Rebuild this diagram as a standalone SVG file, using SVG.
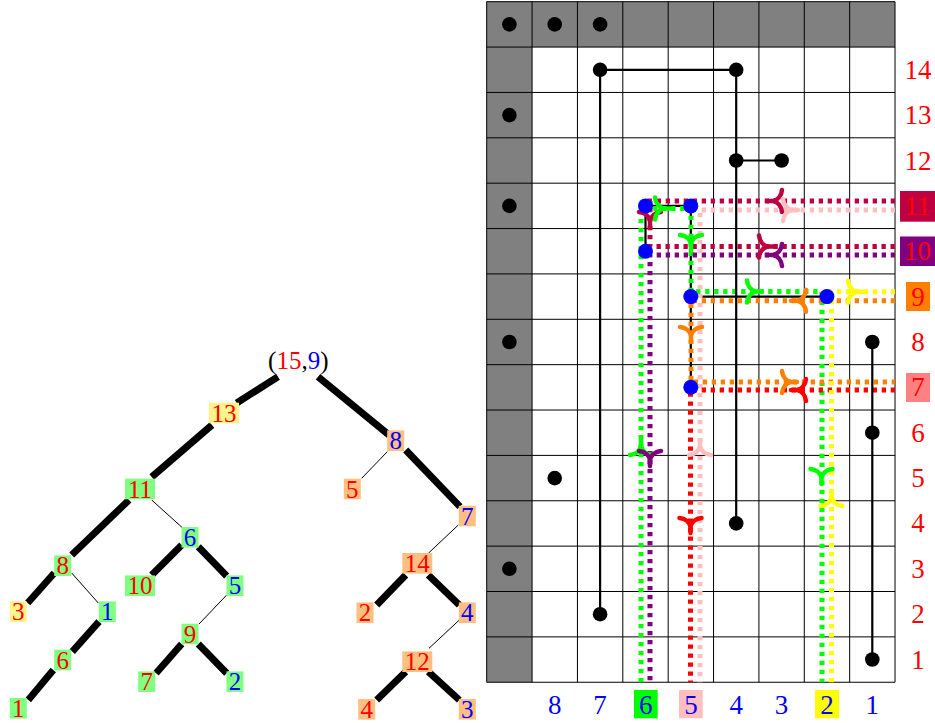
<svg xmlns="http://www.w3.org/2000/svg" xmlns:xlink="http://www.w3.org/1999/xlink" width="935" height="723" viewBox="0 0 935 723">
<style>
text{font-family:"Liberation Serif","Times New Roman",serif}
.tl{font-size:25px;text-anchor:middle}
.gl{font-size:27px;text-anchor:middle}
.r{fill:#ff0000}
.b{fill:#0000ff}
.k{fill:#000}
.thick{stroke:#000;stroke-width:7;fill:none}
.thin{stroke:#000;stroke-width:1;fill:none}
.dot{fill:none;stroke-width:5;stroke-dasharray:4.3 4.7}
.knot{stroke:#000;stroke-width:2.2;fill:none}
.gbg{fill:#80ff80}
.ybg{fill:#fff38a}
.obg{fill:#ffbf80}
</style>
<defs>
<path id="ah" d="M -9,-11 C -8.5,-5 -4.5,-1 0,0 C -4.5,1 -8.5,5 -9,11 M 0,0 H 6" fill="none" stroke-width="4.5" stroke-linecap="round" stroke-linejoin="round"/>
</defs>

<g id="tree-edges">
<path class="thick" d="M278,376.7 L236.7,403"/>
<path class="thick" d="M318,376.7 L389,435"/>
<path class="thick" d="M212,425 L151.7,477"/>
<path class="thick" d="M129,500 L71.7,555"/>
<path class="thin" d="M151.7,500 L182.7,528"/>
<path class="thick" d="M54.3,573 L27.7,603"/>
<path class="thin" d="M71.7,573 L98.3,603"/>
<path class="thick" d="M99,621.7 L72.3,651.7"/>
<path class="thick" d="M53.3,670 L28.3,700"/>
<path class="thick" d="M181.7,545 L151.7,575"/>
<path class="thick" d="M198.3,546.7 L226.7,576"/>
<path class="thin" d="M226.7,595 L199,624"/>
<path class="thick" d="M181.7,644 L156,673.3"/>
<path class="thick" d="M198.3,644 L226.7,673.3"/>
<path class="thin" d="M387.3,451.7 L361.7,478.3"/>
<path class="thick" d="M405.7,450 L460,506.7"/>
<path class="thin" d="M458.3,525 L428.3,553.3"/>
<path class="thick" d="M405.7,575 L376.7,605"/>
<path class="thick" d="M428.3,575 L459.3,605"/>
<path class="thin" d="M459.3,620 L429,648.3"/>
<path class="thick" d="M405.7,671.7 L376.7,700"/>
<path class="thick" d="M428.3,671.7 L459.3,700"/>
</g>

<g id="root"><text class="tl" x="298.3" y="368.7"><tspan class="k">(</tspan><tspan class="r">15</tspan><tspan class="k">,</tspan><tspan class="b">9</tspan><tspan class="k">)</tspan></text></g>
<g id="n13"><rect class="ybg" x="209" y="402.7" width="30" height="20.6"/><text class="tl r" x="224" y="421.7">13</text></g>
<g id="n11"><rect class="gbg" x="125" y="478.7" width="30" height="20.6"/><text class="tl r" x="140" y="497.7">11</text></g>
<g id="n8a"><rect class="gbg" x="54.2" y="555.4" width="17" height="20.6"/><text class="tl r" x="62.7" y="574.4">8</text></g>
<g id="n3a"><rect class="ybg" x="9.8" y="601.4" width="17" height="20.6"/><text class="tl r" x="18.3" y="620.4">3</text></g>
<g id="n1b"><rect class="gbg" x="98.8" y="601.4" width="17" height="20.6"/><text class="tl b" x="107.3" y="620.4">1</text></g>
<g id="n6a"><rect class="gbg" x="54.2" y="649.7" width="17" height="20.6"/><text class="tl r" x="62.7" y="668.7">6</text></g>
<g id="n1a"><rect class="gbg" x="9.8" y="698" width="17" height="20.6"/><text class="tl r" x="18.3" y="717">1</text></g>
<g id="n6b"><rect class="gbg" x="181.5" y="527" width="17" height="20.6"/><text class="tl b" x="190" y="546">6</text></g>
<g id="n10"><rect class="gbg" x="125" y="575.4" width="30" height="20.6"/><text class="tl r" x="140" y="594.4">10</text></g>
<g id="n5b"><rect class="gbg" x="226.5" y="575.4" width="17" height="20.6"/><text class="tl b" x="235" y="594.4">5</text></g>
<g id="n9"><rect class="gbg" x="181.5" y="623.7" width="17" height="20.6"/><text class="tl r" x="190" y="642.7">9</text></g>
<g id="n7b"><rect class="gbg" x="138.2" y="671.4" width="17" height="20.6"/><text class="tl r" x="146.7" y="690.4">7</text></g>
<g id="n2b"><rect class="gbg" x="226.5" y="671.4" width="17" height="20.6"/><text class="tl b" x="235" y="690.4">2</text></g>
<g id="c8"><rect class="obg" x="387.2" y="430.4" width="17" height="20.6"/><text class="tl b" x="395.7" y="449.4">8</text></g>
<g id="c5"><rect class="obg" x="343.8" y="478.7" width="17" height="20.6"/><text class="tl r" x="352.3" y="497.7">5</text></g>
<g id="c7"><rect class="obg" x="458.8" y="505.7" width="17" height="20.6"/><text class="tl b" x="467.3" y="524.7">7</text></g>
<g id="c14"><rect class="obg" x="402.3" y="553" width="30" height="20.6"/><text class="tl r" x="417.3" y="572">14</text></g>
<g id="c2"><rect class="obg" x="356.5" y="602.4" width="17" height="20.6"/><text class="tl r" x="365" y="621.4">2</text></g>
<g id="c4"><rect class="obg" x="458.8" y="602.4" width="17" height="20.6"/><text class="tl b" x="467.3" y="621.4">4</text></g>
<g id="c12"><rect class="obg" x="402.3" y="651.4" width="30" height="20.6"/><text class="tl r" x="417.3" y="670.4">12</text></g>
<g id="c4b"><rect class="obg" x="358.2" y="699" width="17" height="20.6"/><text class="tl r" x="366.7" y="718">4</text></g>
<g id="c3"><rect class="obg" x="458.8" y="699" width="17" height="20.6"/><text class="tl b" x="467.3" y="718">3</text></g>

<g id="grid">
<rect x="486.7" y="1.7" width="408.3" height="45.37" fill="#808080"/>
<rect x="486.7" y="1.7" width="45.37" height="680.55" fill="#808080"/>
<path fill="none" stroke="#000" stroke-width="1" d="M486.7,1.7V682.25M532.07,1.7V682.25M577.44,1.7V682.25M622.81,1.7V682.25M668.18,1.7V682.25M713.55,1.7V682.25M758.92,1.7V682.25M804.29,1.7V682.25M849.66,1.7V682.25M895.03,1.7V682.25M486.7,1.7H895.03M486.7,47.07H895.03M486.7,92.44H895.03M486.7,137.81H895.03M486.7,183.18H895.03M486.7,228.55H895.03M486.7,273.92H895.03M486.7,319.29H895.03M486.7,364.66H895.03M486.7,410.03H895.03M486.7,455.4H895.03M486.7,500.77H895.03M486.7,546.14H895.03M486.7,591.51H895.03M486.7,636.88H895.03M486.7,682.25H895.03"/>
</g>

<g id="connectors">
<path class="knot" d="M645.5,205.9H690.8M645.5,205.9V251.2M690.8,205.9V387.3M690.8,296.6H826.9"/>
<path class="dot" stroke="#00ff00" d="M641,682.3V208.5H691V291.5H822V682.3"/>
<path class="dot" stroke="#800080" d="M895,255H650V682.3"/>
<path class="dot" stroke="#bf0040" d="M895,201H650V246.5H895"/>
<path class="dot" stroke="#ffbfbf" d="M895,210H700V682.3"/>
<path class="dot" stroke="#ff8000" d="M895,300.7H691V382H895"/>
<path class="dot" stroke="#ff0000" d="M895,390H690.5V682.3"/>
<path class="dot" stroke="#ffff00" d="M831.5,682.3V291.7H895"/>
<use href="#ah" stroke="#00ff00" transform="translate(641,446) rotate(-90)"/>
<use href="#ah" stroke="#800080" transform="translate(650,460) rotate(90)"/>
<use href="#ah" stroke="#ffbfbf" transform="translate(700,446) rotate(-90)"/>
<use href="#ah" stroke="#ff0000" transform="translate(690.5,527) rotate(90)"/>
<use href="#ah" stroke="#00ff00" transform="translate(821.5,478) rotate(90)"/>
<use href="#ah" stroke="#ffff00" transform="translate(831.5,497) rotate(-90)"/>
<use href="#ah" stroke="#bf0040" transform="translate(773,201) rotate(180)"/>
<use href="#ah" stroke="#ffbfbf" transform="translate(792,210)"/>
<use href="#ah" stroke="#bf0040" transform="translate(768,246.5)"/>
<use href="#ah" stroke="#800080" transform="translate(773,255) rotate(180)"/>
<use href="#ah" stroke="#bf0040" transform="translate(650,221) rotate(90)"/>
<use href="#ah" stroke="#00ff00" transform="translate(664,208.5)"/>
<use href="#ah" stroke="#00ff00" transform="translate(691,244) rotate(90)"/>
<use href="#ah" stroke="#00ff00" transform="translate(756,291.5)"/>
<use href="#ah" stroke="#ff8000" transform="translate(797,300.7) rotate(180)"/>
<use href="#ah" stroke="#ff8000" transform="translate(691,336) rotate(90)"/>
<use href="#ah" stroke="#ff8000" transform="translate(791,382)"/>
<use href="#ah" stroke="#ff0000" transform="translate(797,390) rotate(180)"/>
<use href="#ah" stroke="#ffff00" transform="translate(857,291.7)"/>
<path class="knot" d="M600.1,69.8H736.2M600.1,69.8V614.2M736.2,69.8V523.4M736.2,160.5H781.6M872.3,342V659.5"/>
</g>

<g id="black-dots" fill="#000">
<circle cx="509.4" cy="24.4" r="7.3"/><circle cx="554.7" cy="24.4" r="7.3"/><circle cx="600.1" cy="24.4" r="7.3"/>
<circle cx="509.4" cy="115.1" r="7.3"/><circle cx="509.4" cy="205.9" r="7.3"/><circle cx="509.4" cy="342" r="7.3"/><circle cx="509.4" cy="568.8" r="7.3"/>
<circle cx="600.1" cy="69.8" r="7.3"/><circle cx="736.2" cy="69.8" r="7.3"/><circle cx="600.1" cy="614.2" r="7.3"/><circle cx="736.2" cy="523.4" r="7.3"/>
<circle cx="736.2" cy="160.5" r="7.3"/><circle cx="781.6" cy="160.5" r="7.3"/>
<circle cx="872.3" cy="342" r="7.3"/><circle cx="872.3" cy="432.7" r="7.3"/><circle cx="872.3" cy="659.5" r="7.3"/>
<circle cx="554.7" cy="478.1" r="7.3"/>
</g>
<g id="blue-dots" fill="#0000ff">
<circle cx="645.5" cy="205.9" r="7.5"/><circle cx="690.8" cy="205.9" r="7.5"/><circle cx="645.5" cy="251.2" r="7.5"/>
<circle cx="690.8" cy="296.6" r="7.5"/><circle cx="826.9" cy="296.6" r="7.5"/><circle cx="690.8" cy="387.3" r="7.5"/>
</g>

<g id="row-labels">
<rect x="900" y="191" width="36" height="30.7" fill="#bf0040"/>
<rect x="900" y="236.5" width="36" height="29.5" fill="#800080"/>
<rect x="906" y="282" width="24" height="29" fill="#ff8000"/>
<rect x="906" y="373" width="24" height="29" fill="#ff8080"/>
<text class="gl r" x="918" y="78.8">14</text>
<text class="gl r" x="918" y="124.1">13</text>
<text class="gl r" x="918" y="169.5">12</text>
<text class="gl r" x="917.5" y="214.9">11</text>
<text class="gl r" x="917.5" y="260.2">10</text>
<text class="gl r" x="918" y="305.6">9</text>
<text class="gl r" x="918" y="351">8</text>
<text class="gl r" x="918" y="396.3">7</text>
<text class="gl r" x="918" y="441.7">6</text>
<text class="gl r" x="918" y="487.1">5</text>
<text class="gl r" x="918" y="532.4">4</text>
<text class="gl r" x="918" y="577.8">3</text>
<text class="gl r" x="918" y="623.2">2</text>
<text class="gl r" x="918" y="668.5">1</text>
</g>

<g id="col-labels">
<rect x="634" y="690" width="23.7" height="28.3" fill="#00ff00"/>
<rect x="679" y="690" width="23.7" height="28.3" fill="#ffbfbf"/>
<rect x="815" y="690" width="24" height="28.3" fill="#ffff00"/>
<text class="gl b" x="554.7" y="713.8">8</text>
<text class="gl b" x="600" y="713.8">7</text>
<text class="gl b" x="645.8" y="713.8">6</text>
<text class="gl b" x="691" y="713.8">5</text>
<text class="gl b" x="736.2" y="713.8">4</text>
<text class="gl b" x="781.6" y="713.8">3</text>
<text class="gl b" x="827" y="713.8">2</text>
<text class="gl b" x="872.3" y="713.8">1</text>
</g>
</svg>
